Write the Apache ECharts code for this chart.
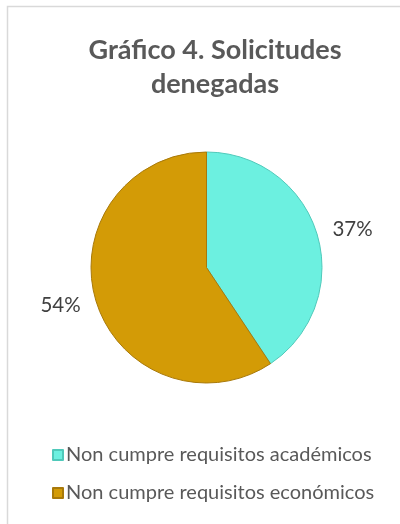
<!DOCTYPE html>
<html>
<head>
<meta charset="utf-8">
<script src="https://cdn.jsdelivr.net/npm/echarts@6/dist/echarts.min.js"></script>
<style>
  html, body { margin: 0; padding: 0; background: #fff; }
  #chart { width: 400px; height: 524px; }
</style>
</head>
<body>
<div id="chart"></div>
<script>
const categories = ['Non cumpre requisitos académicos', 'Non cumpre requisitos económicos']
const values = [37, 54]
const colors = ['#6CF0E0', '#D39B06']
const edgeColors = ['#4FC9BA', '#A8790A']

const chart = echarts.init(document.getElementById('chart'))
chart.setOption({
  animation: false,
  title: {
    text: 'Gráfico 4. Solicitudes\ndenegadas',
    left: 210,
    textAlign: 'center',
    top: 28,
    textStyle: {
      fontFamily: 'Lato',
      fontSize: 27,
      fontWeight: 'bold',
      color: '#595959',
      lineHeight: 34
    }
  },
  graphic: [{
    type: 'rect',
    shape: { x: 7.5, y: 6.5, width: 420, height: 540 },
    style: { fill: 'none', stroke: '#d9d9d9', lineWidth: 1.5 },
    silent: true
  }],
  legend: {
    orient: 'vertical',
    left: 47,
    top: 440,
    itemWidth: 10,
    itemHeight: 10,
    itemGap: 18,
    icon: 'rect',
    textStyle: {
      fontFamily: 'Lato',
      fontSize: 20,
      color: '#595959',
      padding: [0, 0, 0, -2]
    },
    data: categories
  },
  series: [{
    type: 'pie',
    center: [206.5, 267.5],
    radius: 115.5,
    startAngle: 90,
    avoidLabelOverlap: false,
    label: {
      show: true,
      position: 'outside',
      formatter: '{c}%',
      fontFamily: 'Lato',
      fontSize: 20.5,
      color: '#404040',
      distanceToLabelLine: 0
    },
    labelLine: { show: false, length: 16, length2: 0 },
    data: categories.map((name, i) => ({
      name: name,
      value: values[i],
      itemStyle: {
        color: colors[i],
        borderColor: edgeColors[i],
        borderWidth: 1
      }
    }))
  }]
})
</script>
</body>
</html>
